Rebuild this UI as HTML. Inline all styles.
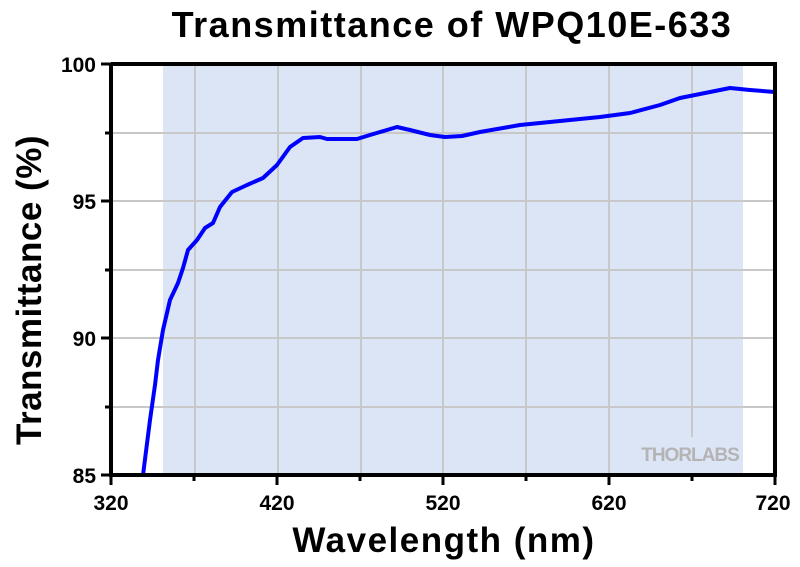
<!DOCTYPE html>
<html><head><meta charset="utf-8"><style>body{margin:0;background:#fff}</style></head><body>
<svg width="800" height="562" xmlns="http://www.w3.org/2000/svg" font-family="Liberation Sans, Arial, sans-serif" font-weight="bold">
<rect x="163" y="64" width="580" height="411" fill="#dce5f6"/>
<g stroke="#c8c8c8" stroke-width="2">
<line x1="195" y1="64" x2="195" y2="475"/><line x1="278" y1="64" x2="278" y2="475"/><line x1="361" y1="64" x2="361" y2="475"/><line x1="443" y1="64" x2="443" y2="475"/><line x1="526" y1="64" x2="526" y2="475"/><line x1="609" y1="64" x2="609" y2="475"/><line x1="692" y1="64" x2="692" y2="437"/>
<line x1="111" y1="133" x2="775" y2="133"/><line x1="111" y1="201" x2="775" y2="201"/><line x1="111" y1="270" x2="775" y2="270"/><line x1="111" y1="338" x2="775" y2="338"/><line x1="111" y1="407" x2="775" y2="407"/>
</g>
<text x="690" y="461" font-size="19" fill="#b4b4b4" text-anchor="middle" letter-spacing="-1">THORLABS</text>
<polyline fill="none" stroke="#0000ff" stroke-width="4" stroke-linejoin="round" points="143,475 150,420 155,385 158,360 163,330 170,300 178,283 183,268 188,250 197,240 205,228 213,223 220,207 232,192 247,185 263,178 277,165 290,147 303,138 320,137 327,139 357,139 370,135 387,130 397,127 410,130 430,135 445,137 462,136 480,132 520,125 560,121 600,117 630,113 660,105 680,98 700,94 730,88 750,90 775,92"/>
<g stroke="#000" stroke-width="4" fill="none"><polyline points="111,64 775,64 775,475 111,475 111,64"/></g>
<g stroke="#000" stroke-width="3">
<line x1="101" y1="64" x2="111" y2="64"/><line x1="101" y1="201" x2="111" y2="201"/><line x1="101" y1="338" x2="111" y2="338"/><line x1="101" y1="475" x2="111" y2="475"/>
<line x1="105" y1="133" x2="111" y2="133"/><line x1="105" y1="270" x2="111" y2="270"/><line x1="105" y1="407" x2="111" y2="407"/>
<line x1="111" y1="475" x2="111" y2="485"/><line x1="277" y1="475" x2="277" y2="485"/><line x1="443" y1="475" x2="443" y2="485"/><line x1="609" y1="475" x2="609" y2="485"/><line x1="775" y1="475" x2="775" y2="485"/>
<line x1="194" y1="475" x2="194" y2="481"/><line x1="360" y1="475" x2="360" y2="481"/><line x1="526" y1="475" x2="526" y2="481"/><line x1="692" y1="475" x2="692" y2="481"/>
</g>
<g font-size="21" text-anchor="end"><text x="96" y="72">100</text><text x="96" y="209">95</text><text x="96" y="346">90</text><text x="96" y="483">85</text></g>
<g font-size="21" text-anchor="middle"><text x="111" y="510">320</text><text x="277" y="510">420</text><text x="443" y="510">520</text><text x="609" y="510">620</text><text x="773" y="510">720</text></g>
<text x="444" y="552" font-size="35" text-anchor="middle" letter-spacing="1.5">Wavelength (nm)</text>
<text transform="translate(41,290) rotate(-90)" font-size="35" text-anchor="middle" letter-spacing="0.5">Transmittance (%)</text>
<text x="452" y="37" font-size="36" text-anchor="middle" letter-spacing="1.5">Transmittance of WPQ10E-633</text>
</svg>
</body></html>
